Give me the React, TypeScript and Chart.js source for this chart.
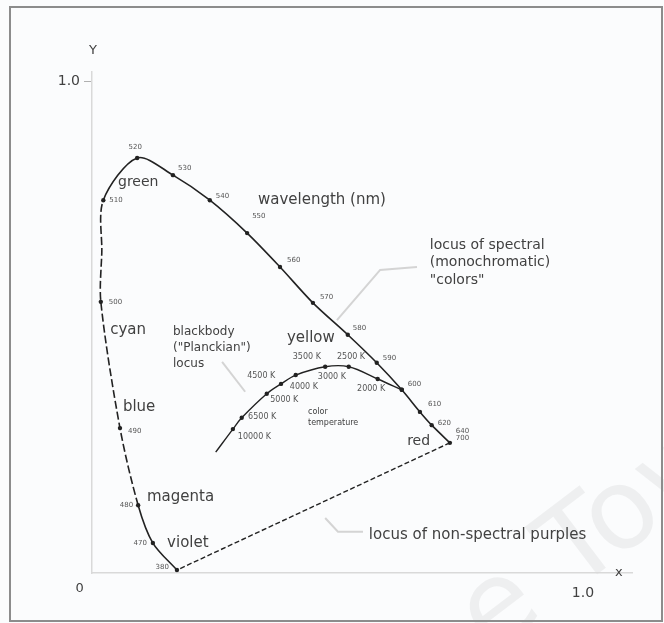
import { useEffect, useRef } from 'react';
import { Chart, registerables } from 'chart.js';

Chart.register(...registerables);

// Spectral locus: chromaticity coordinates along the curve; points with a
// wavelength (nm) carry a marker, the unnamed one only follows the curve
const locusWavelength = ['380', '470', '480', '490', '500', '', '510', '520', '530', '540', '550', '560', '570', '580', '590', '600', '610', '620', '640\n700'];
const locusX = [0.173, 0.124, 0.094, 0.057, 0.018, 0.020, 0.023, 0.092, 0.165, 0.240, 0.316, 0.383, 0.450, 0.521, 0.580, 0.631, 0.668, 0.692, 0.729];
const locusY = [0.006, 0.061, 0.138, 0.295, 0.552, 0.654, 0.759, 0.845, 0.810, 0.759, 0.692, 0.623, 0.550, 0.485, 0.428, 0.373, 0.328, 0.301, 0.265];

// Blackbody (Planckian) locus, from the blue end towards the red end
const planckX = [0.252, 0.287, 0.305, 0.356, 0.385, 0.415, 0.475, 0.523, 0.582, 0.631];
const planckY = [0.246, 0.293, 0.316, 0.365, 0.385, 0.403, 0.420, 0.420, 0.395, 0.373];
const planckMarked = [false, true, true, true, true, true, true, true, true, true];

// Colour temperature labels along the blackbody locus
const temperatureLabels = ['10000 K', '6500 K', '5000 K', '4000 K', '4500 K', '3000 K', '3500 K', '2500 K', '2000 K'];

// Axis tick labels
const yTickLabel = '1.0';
const xTickLabel = '1.0';
const originLabel = '0';

const FONT = '"DejaVu Sans", sans-serif';
const INK = '#222';
const TEXT = '#414141';

// dx, dy (px) and alignment of each wavelength label relative to its marker
const wavelengthLabelOffsets: [number, number, CanvasTextAlign][] = [
  [-8, -3, 'right'], [-6, 0, 'right'], [-5, 0, 'right'], [8, 3, 'left'],
  [8, 0, 'left'], [0, 0, 'left'], [6, 0, 'left'], [-2, -11, 'center'], [5, -7, 'left'],
  [6, -4, 'left'], [5, -17, 'left'], [7, -7, 'left'], [7, -6, 'left'],
  [5, -7, 'left'], [6, -5, 'left'], [6, -6, 'left'], [8, -8, 'left'],
  [6, -2, 'left'], [6, -12, 'left'],
];

// where each temperature label sits (data units, left edge / middle)
const temperaturePlaces = [
  [0.297, 0.277], [0.318, 0.318], [0.363, 0.352], [0.403, 0.379], [0.316, 0.401],
  [0.460, 0.399], [0.409, 0.440], [0.499, 0.440], [0.540, 0.375],
];

const textNotes: { lines: string[]; x: number; y: number; size: number; gap?: number }[] = [
  { lines: ['green'], x: 0.053, y: 0.796, size: 14 },
  { lines: ['wavelength (nm)'], x: 0.338, y: 0.760, size: 15 },
  { lines: ['locus of spectral', '(monochromatic)', '"colors"'], x: 0.688, y: 0.668, size: 14, gap: 17.5 },
  { lines: ['cyan'], x: 0.037, y: 0.495, size: 15 },
  { lines: ['blackbody', '("Planckian")', 'locus'], x: 0.165, y: 0.491, size: 12, gap: 16 },
  { lines: ['yellow'], x: 0.397, y: 0.479, size: 15 },
  { lines: ['blue'], x: 0.063, y: 0.338, size: 15 },
  { lines: ['magenta'], x: 0.112, y: 0.155, size: 15 },
  { lines: ['violet'], x: 0.153, y: 0.061, size: 15 },
  { lines: ['red'], x: 0.642, y: 0.267, size: 14 },
  { lines: ['locus of non-spectral purples'], x: 0.564, y: 0.077, size: 15 },
  { lines: ['color', 'temperature'], x: 0.440, y: 0.328, size: 8, gap: 11 },
];

const leaderLines = [
  [[0.662, 0.623], [0.587, 0.617], [0.499, 0.515]],
  [[0.265, 0.430], [0.312, 0.369]],
  [[0.475, 0.112], [0.501, 0.084], [0.552, 0.084]],
];

// segments of the spectral locus drawn broken (from 480 nm up to 510 nm)
const DASHED_SEGMENTS = new Set([2, 3, 4, 5]);

const diagramPlugin = {
  id: 'diagram',
  beforeDraw(chart: any) {
    const { ctx, width, height } = chart;
    ctx.save();
    ctx.fillStyle = '#fbfcfd';
    ctx.fillRect(0, 0, width, height);
    // faint watermark
    ctx.translate(491, 655);
    ctx.rotate(-0.65);
    ctx.font = `112px ${FONT}`;
    ctx.fillStyle = 'rgba(0,0,0,0.05)';
    ctx.textBaseline = 'alphabetic';
    ctx.fillText('e Tow', 0, 0);
    ctx.restore();
    ctx.save();
    ctx.strokeStyle = '#8c8c8c';
    ctx.lineWidth = 2;
    ctx.strokeRect(10, 7, 652, 614);
    ctx.restore();
  },
  beforeDatasetsDraw(chart: any) {
    const { ctx, scales } = chart;
    const X = (v: number) => scales.x.getPixelForValue(v);
    const Y = (v: number) => scales.y.getPixelForValue(v);
    ctx.save();
    ctx.strokeStyle = '#d4d4d4';
    ctx.lineWidth = 2;
    for (const line of leaderLines) {
      ctx.beginPath();
      line.forEach(([a, b], i) => (i ? ctx.lineTo(X(a), Y(b)) : ctx.moveTo(X(a), Y(b))));
      ctx.stroke();
    }
    ctx.restore();
  },
  afterDraw(chart: any) {
    const { ctx, scales } = chart;
    const X = (v: number) => scales.x.getPixelForValue(v);
    const Y = (v: number) => scales.y.getPixelForValue(v);
    ctx.save();
    ctx.textBaseline = 'middle';

    // wavelength labels
    ctx.fillStyle = '#555';
    ctx.font = `7px ${FONT}`;
    locusWavelength.forEach((lab, i) => {
      if (!lab) return;
      const [dx, dy, align] = wavelengthLabelOffsets[i];
      ctx.textAlign = align;
      lab.split('\n').forEach((t, k) => {
        ctx.fillText(t, X(locusX[i]) + dx, Y(locusY[i]) + dy + k * 7);
      });
    });

    // temperature labels
    ctx.font = `8px ${FONT}`;
    ctx.textAlign = 'left';
    temperatureLabels.forEach((t, i) => {
      const [a, b] = temperaturePlaces[i];
      ctx.fillText(t, X(a), Y(b));
    });

    // region and locus names
    ctx.fillStyle = TEXT;
    for (const n of textNotes) {
      ctx.font = `${n.size}px ${FONT}`;
      n.lines.forEach((t, k) => ctx.fillText(t, X(n.x), Y(n.y) + k * (n.gap ?? 0)));
    }

    // axis names and origin
    ctx.font = `13px ${FONT}`;
    ctx.textAlign = 'center';
    ctx.fillText('Y', X(0.002), Y(1.063));
    ctx.fillText('x', X(1.073), Y(0.0));
    ctx.fillText(originLabel, X(-0.025), Y(-0.031));
    ctx.restore();
  },
};

export default function App() {
  const ref = useRef<HTMLCanvasElement>(null);

  useEffect(() => {
    const canvas = ref.current!;
    const locus = locusX.map((x, i) => ({ x, y: locusY[i] }));
    const purples = [locus[locus.length - 1], locus[0]];
    const planck = planckX.map((x, i) => ({ x, y: planckY[i] }));

    const chart = new Chart(canvas, {
      type: 'scatter',
      data: {
        datasets: [
          {
            data: purples,
            showLine: true,
            borderColor: INK,
            borderWidth: 1.4,
            borderDash: [5, 2.5],
            pointRadius: 0,
          },
          {
            data: planck,
            showLine: true,
            tension: 0.35,
            borderColor: INK,
            borderWidth: 1.4,
            pointRadius: planckMarked.map((m) => (m ? 2.2 : 0)),
            pointBackgroundColor: INK,
            pointBorderWidth: 0,
          },
          {
            data: locus,
            showLine: true,
            tension: 0.3,
            borderColor: INK,
            borderWidth: 1.6,
            pointRadius: locusWavelength.map((w) => (w ? 2.2 : 0)),
            pointBackgroundColor: INK,
            pointBorderWidth: 0,
            segment: {
              borderDash: (c: any) => (DASHED_SEGMENTS.has(c.p0DataIndex) ? [8, 3] : undefined),
            },
          },
        ],
      },
      options: {
        animation: false,
        responsive: false,
        events: [],
        layout: { padding: { top: 72, right: 32, left: 0, bottom: 0 } },
        plugins: { legend: { display: false }, tooltip: { enabled: false } },
        scales: {
          x: {
            type: 'linear',
            min: 0,
            max: 1.1,
            afterFit: (s: any) => { s.height = 50; },
            afterBuildTicks: (s: any) => { s.ticks = [{ value: 1 }]; },
            ticks: {
              callback: (v: any) => (v === 1 ? xTickLabel : ''),
              padding: 12,
              color: TEXT,
              font: { family: FONT, size: 14 },
            },
            grid: { display: false, drawTicks: false },
            border: { display: true, color: '#d9d9d9', width: 1.5 },
          },
          y: {
            type: 'linear',
            min: 0,
            max: 1.02,
            afterFit: (s: any) => { s.width = 92; },
            afterBuildTicks: (s: any) => { s.ticks = [{ value: 1 }]; },
            ticks: {
              callback: (v: any) => (v === 1 ? yTickLabel : ''),
              padding: 4,
              color: TEXT,
              font: { family: FONT, size: 14 },
            },
            grid: { display: true, drawOnChartArea: false, drawTicks: true, tickLength: 8, color: '#b0b0b0' },
            border: { display: true, color: '#d9d9d9', width: 1.5 },
          },
        },
      },
      plugins: [diagramPlugin],
    });
    return () => chart.destroy();
  }, []);

  return (
    <div style={{ position: 'absolute', left: 0, top: 0, width: 664, height: 623 }}>
      <canvas ref={ref} width={664} height={623} />
    </div>
  );
}
